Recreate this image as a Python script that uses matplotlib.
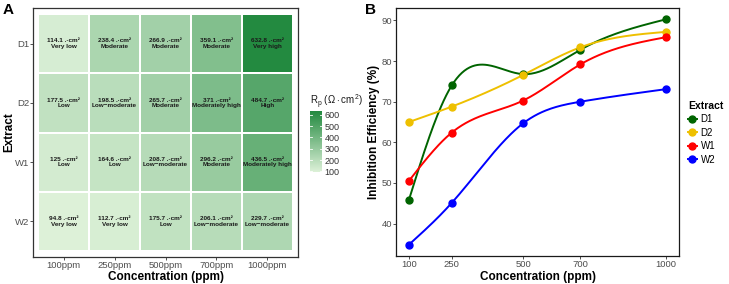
import numpy as np
import matplotlib
matplotlib.use("Agg")
import matplotlib.pyplot as plt
from matplotlib.colors import LinearSegmentedColormap, Normalize
from matplotlib.lines import Line2D

plt.rcParams['font.family'] = ['Liberation Sans', 'DejaVu Sans']
plt.rcParams['mathtext.fontset'] = 'custom'
plt.rcParams['mathtext.rm'] = 'Liberation Sans'

# ---------------- data ----------------
conc_labels = ["100ppm", "250ppm", "500ppm", "700ppm", "1000ppm"]
extracts = ["D1", "D2", "W1", "W2"]
rp_D1 = [114.1, 238.4, 266.9, 359.1, 632.8]
rp_D2 = [177.5, 198.5, 265.7, 371, 484.7]
rp_W1 = [125, 164.6, 208.7, 296.2, 436.5]
rp_W2 = [94.8, 112.7, 175.7, 206.1, 229.7]
cat_D1 = ["Very low", "Moderate", "Moderate", "Moderate", "Very high"]
cat_D2 = ["Low", "Low\u2212moderate", "Moderate", "Moderately high", "High"]
cat_W1 = ["Low", "Low", "Low\u2212moderate", "Moderate", "Moderately high"]
cat_W2 = ["Very low", "Very low", "Low", "Low\u2212moderate", "Low\u2212moderate"]

conc = [100, 250, 500, 700, 1000]
ie_D1 = [45.8, 74.0, 76.8, 82.8, 90.3]
ie_D2 = [65.0, 68.8, 76.6, 83.4, 87.2]
ie_W1 = [50.5, 62.4, 70.3, 79.2, 85.9]
ie_W2 = [34.8, 45.1, 64.7, 70.0, 73.1]
series_colors = {"D1": "#006400", "D2": "#EEC000", "W1": "#FF0000", "W2": "#0000FF"}

rp = np.array([rp_D1, rp_D2, rp_W1, rp_W2])
cats = [cat_D1, cat_D2, cat_W1, cat_W2]
ie = {"D1": ie_D1, "D2": ie_D2, "W1": ie_W1, "W2": ie_W2}


def natural_spline(x, y, n=200):
    x = np.asarray(x, float); y = np.asarray(y, float)
    k = len(x)
    h = np.diff(x)
    A = np.zeros((k, k)); b = np.zeros(k)
    A[0, 0] = 1; A[-1, -1] = 1
    for i in range(1, k - 1):
        A[i, i - 1] = h[i - 1]
        A[i, i] = 2 * (h[i - 1] + h[i])
        A[i, i + 1] = h[i]
        b[i] = 3 * ((y[i + 1] - y[i]) / h[i] - (y[i] - y[i - 1]) / h[i - 1])
    c = np.linalg.solve(A, b)
    bb = np.zeros(k - 1); d = np.zeros(k - 1)
    for i in range(k - 1):
        bb[i] = (y[i + 1] - y[i]) / h[i] - h[i] * (2 * c[i] + c[i + 1]) / 3
        d[i] = (c[i + 1] - c[i]) / (3 * h[i])
    xs = np.linspace(x[0], x[-1], n)
    idx = np.clip(np.searchsorted(x, xs) - 1, 0, k - 2)
    dx = xs - x[idx]
    ys = y[idx] + bb[idx] * dx + c[idx] * dx ** 2 + d[idx] * dx ** 3
    return xs, ys


W, H = 729, 284
fig = plt.figure(figsize=(W / 100, H / 100), dpi=100)


def fx(px):
    return px / W


def fy(py):
    return 1 - py / H


# ---------------- Panel A: heatmap ----------------
cmap = LinearSegmentedColormap.from_list("g", ["#ddf1d8", "#238a40"])
norm = Normalize(vmin=rp.min(), vmax=rp.max())
axA = fig.add_axes([fx(33), fy(257), fx(298) - fx(33), fy(8) - fy(257)])
xs_edges = np.arange(len(conc_labels) + 1) - 0.5
ys_edges = np.arange(len(extracts) + 1) - 0.5
axA.pcolormesh(xs_edges, ys_edges, rp, cmap=cmap, norm=norm,
               edgecolors="white", linewidth=1.2)
axA.set_xlim(-0.6, len(conc_labels) - 0.4)
axA.set_ylim(len(extracts) - 0.4, -0.6)
for i in range(len(extracts)):
    for j in range(len(conc_labels)):
        axA.text(j, i, f"{rp[i, j]:g} .\u00b7cm\u00b2\n{cats[i][j]}",
                 ha="center", va="center", fontsize=4.6, fontweight="bold",
                 color="#1a1a1a", linespacing=1.1)
axA.set_xticks(range(len(conc_labels)))
axA.set_xticklabels(conc_labels)
axA.set_yticks(range(len(extracts)))
axA.set_yticklabels(extracts)
axA.tick_params(length=2, width=0.6, colors="#333333", labelsize=6.8,
                labelcolor="#4d4d4d", pad=0.8)
for s in axA.spines.values():
    s.set_color("#333333"); s.set_linewidth(0.9)
axA.set_xlabel("Concentration (ppm)", fontsize=8.5, fontweight="bold")
axA.set_ylabel("Extract", fontsize=8.5, fontweight="bold")
axA.xaxis.set_label_coords(0.5, -(277 - 257) / 249, transform=axA.transAxes)
axA.xaxis.label.set_va("center")
axA.yaxis.set_label_coords(-(33 - 9) / 265, 0.5, transform=axA.transAxes)
axA.yaxis.label.set_va("center")

# colorbar
cax = fig.add_axes([fx(310), fy(172), fx(322) - fx(310), fy(111) - fy(172)])
grad = np.linspace(rp.min(), rp.max(), 256).reshape(-1, 1)
cax.imshow(grad, aspect="auto", cmap=cmap, norm=norm, origin="lower",
           extent=[0, 1, rp.min(), rp.max()])
cax.set_xticks([])
cax.yaxis.tick_right()
cax.set_yticks([100, 200, 300, 400, 500, 600])
cax.tick_params(axis="y", length=0, labelsize=6.5, labelcolor="#333333", pad=2)
for v in [100, 200, 300, 400, 500, 600]:
    cax.plot([0, 0.2], [v, v], color="white", lw=0.6)
    cax.plot([0.8, 1], [v, v], color="white", lw=0.6)
cax.set_xlim(0, 1)
for s in cax.spines.values():
    s.set_visible(False)
fig.text(fx(310), fy(102), r"R$_\mathrm{p}$ ($\Omega\cdot$cm$^2$)", fontsize=7,
         ha="left", va="center", color="#1a1a1a")

# ---------------- Panel B: lines ----------------
axB = fig.add_axes([fx(396), fy(256), fx(679) - fx(396), fy(8) - fy(256)])
for name in extracts:
    xs, ys = natural_spline(conc, ie[name])
    axB.plot(xs, ys, color=series_colors[name], lw=1.4, zorder=2)
    axB.plot(conc, ie[name], "o", color=series_colors[name], ms=5, zorder=3)
xr = max(conc) - min(conc)
axB.set_xlim(min(conc) - 0.05 * xr, max(conc) + 0.05 * xr)
allv = np.concatenate([ie[n] for n in extracts])
yr = allv.max() - allv.min()
axB.set_ylim(allv.min() - 0.05 * yr, allv.max() + 0.05 * yr)
axB.set_xticks(conc)
axB.set_yticks([40, 50, 60, 70, 80, 90])
axB.tick_params(length=2, width=0.6, colors="#333333", labelsize=6.8,
                labelcolor="#4d4d4d", pad=0.8)
for s in axB.spines.values():
    s.set_color("#1a1a1a"); s.set_linewidth(0.9)
axB.set_xlabel("Concentration (ppm)", fontsize=8.5, fontweight="bold")
axB.set_ylabel("Inhibition Efficiency (%)", fontsize=8.5, fontweight="bold")
axB.xaxis.set_label_coords(0.5, -(277 - 256) / 248, transform=axB.transAxes)
axB.xaxis.label.set_va("center")
axB.yaxis.set_label_coords(-(396 - 374) / 283, 0.5, transform=axB.transAxes)
axB.yaxis.label.set_va("center")

handles = [Line2D([0], [0], color=series_colors[n], lw=1.4, marker="o", ms=5)
           for n in extracts]
leg = fig.legend(handles, extracts, title="Extract", loc="upper left",
                 bbox_to_anchor=(fx(688), fy(101)), frameon=False, fontsize=7,
                 title_fontproperties={"weight": "bold", "size": 7.5},
                 handlelength=0.9, handletextpad=0.4, labelspacing=0.35,
                 borderaxespad=0, borderpad=0)
leg._legend_box.align = "left"

fig.text(fx(3), fy(10), "A", fontsize=11, fontweight="bold", ha="left", va="center")
fig.text(fx(365), fy(10), "B", fontsize=11, fontweight="bold", ha="left", va="center")

fig.savefig("out.png", dpi=100)
